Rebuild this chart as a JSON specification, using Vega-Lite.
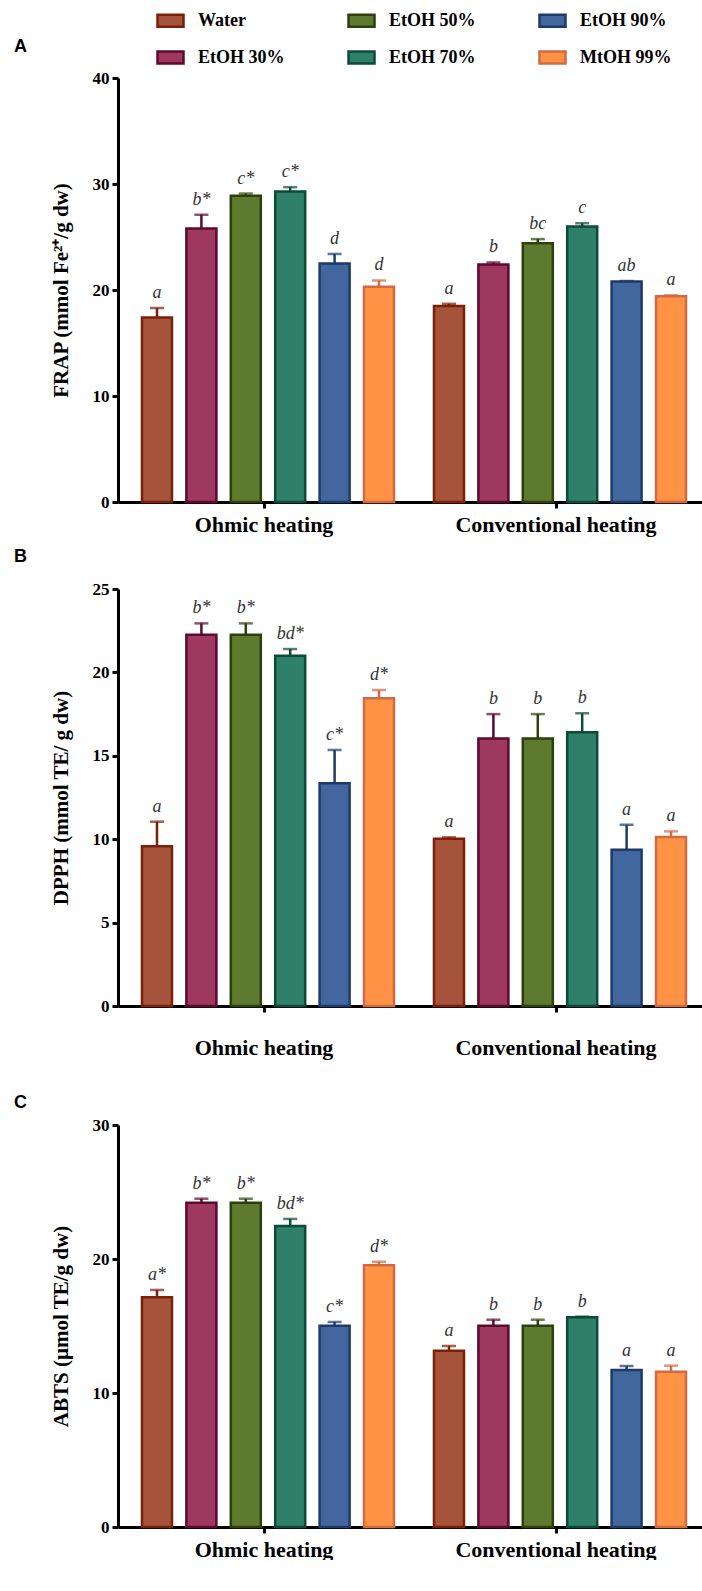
{
  "$schema": "https://vega.github.io/schema/vega-lite/v6.json",
  "padding": {"left": 14, "top": 6, "right": 0, "bottom": 0},
  "background": "white",
  "data": {"values": [
    {"panel": "A", "heating": "Ohmic heating", "solvent": "Water", "value": 17.4, "err": 18.3, "label": "a"},
    {"panel": "A", "heating": "Ohmic heating", "solvent": "EtOH 30%", "value": 25.8, "err": 27.1, "label": "b*"},
    {"panel": "A", "heating": "Ohmic heating", "solvent": "EtOH 50%", "value": 28.9, "err": 29.1, "label": "c*"},
    {"panel": "A", "heating": "Ohmic heating", "solvent": "EtOH 70%", "value": 29.3, "err": 29.7, "label": "c*"},
    {"panel": "A", "heating": "Ohmic heating", "solvent": "EtOH 90%", "value": 22.5, "err": 23.4, "label": "d"},
    {"panel": "A", "heating": "Ohmic heating", "solvent": "MtOH 99%", "value": 20.3, "err": 20.9, "label": "d"},
    {"panel": "A", "heating": "Conventional heating", "solvent": "Water", "value": 18.5, "err": 18.7, "label": "a"},
    {"panel": "A", "heating": "Conventional heating", "solvent": "EtOH 30%", "value": 22.4, "err": 22.6, "label": "b"},
    {"panel": "A", "heating": "Conventional heating", "solvent": "EtOH 50%", "value": 24.4, "err": 24.8, "label": "bc"},
    {"panel": "A", "heating": "Conventional heating", "solvent": "EtOH 70%", "value": 26.0, "err": 26.3, "label": "c"},
    {"panel": "A", "heating": "Conventional heating", "solvent": "EtOH 90%", "value": 20.8, "err": 20.85, "label": "ab"},
    {"panel": "A", "heating": "Conventional heating", "solvent": "MtOH 99%", "value": 19.4, "err": 19.5, "label": "a"},
    {"panel": "B", "heating": "Ohmic heating", "solvent": "Water", "value": 9.57, "err": 11.05, "label": "a"},
    {"panel": "B", "heating": "Ohmic heating", "solvent": "EtOH 30%", "value": 22.26, "err": 22.94, "label": "b*"},
    {"panel": "B", "heating": "Ohmic heating", "solvent": "EtOH 50%", "value": 22.26, "err": 22.94, "label": "b*"},
    {"panel": "B", "heating": "Ohmic heating", "solvent": "EtOH 70%", "value": 21.0, "err": 21.4, "label": "bd*"},
    {"panel": "B", "heating": "Ohmic heating", "solvent": "EtOH 90%", "value": 13.35, "err": 15.35, "label": "c*"},
    {"panel": "B", "heating": "Ohmic heating", "solvent": "MtOH 99%", "value": 18.45, "err": 18.95, "label": "d*"},
    {"panel": "B", "heating": "Conventional heating", "solvent": "Water", "value": 10.03, "err": 10.11, "label": "a"},
    {"panel": "B", "heating": "Conventional heating", "solvent": "EtOH 30%", "value": 16.03, "err": 17.5, "label": "b"},
    {"panel": "B", "heating": "Conventional heating", "solvent": "EtOH 50%", "value": 16.03, "err": 17.5, "label": "b"},
    {"panel": "B", "heating": "Conventional heating", "solvent": "EtOH 70%", "value": 16.41, "err": 17.55, "label": "b"},
    {"panel": "B", "heating": "Conventional heating", "solvent": "EtOH 90%", "value": 9.37, "err": 10.87, "label": "a"},
    {"panel": "B", "heating": "Conventional heating", "solvent": "MtOH 99%", "value": 10.13, "err": 10.47, "label": "a"},
    {"panel": "C", "heating": "Ohmic heating", "solvent": "Water", "value": 17.14, "err": 17.69, "label": "a*"},
    {"panel": "C", "heating": "Ohmic heating", "solvent": "EtOH 30%", "value": 24.2, "err": 24.5, "label": "b*"},
    {"panel": "C", "heating": "Ohmic heating", "solvent": "EtOH 50%", "value": 24.2, "err": 24.5, "label": "b*"},
    {"panel": "C", "heating": "Ohmic heating", "solvent": "EtOH 70%", "value": 22.46, "err": 22.99, "label": "bd*"},
    {"panel": "C", "heating": "Ohmic heating", "solvent": "EtOH 90%", "value": 15.02, "err": 15.3, "label": "c*"},
    {"panel": "C", "heating": "Ohmic heating", "solvent": "MtOH 99%", "value": 19.53, "err": 19.8, "label": "d*"},
    {"panel": "C", "heating": "Conventional heating", "solvent": "Water", "value": 13.16, "err": 13.51, "label": "a"},
    {"panel": "C", "heating": "Conventional heating", "solvent": "EtOH 30%", "value": 15.02, "err": 15.47, "label": "b"},
    {"panel": "C", "heating": "Conventional heating", "solvent": "EtOH 50%", "value": 15.02, "err": 15.47, "label": "b"},
    {"panel": "C", "heating": "Conventional heating", "solvent": "EtOH 70%", "value": 15.65, "err": 15.7, "label": "b"},
    {"panel": "C", "heating": "Conventional heating", "solvent": "EtOH 90%", "value": 11.72, "err": 12.01, "label": "a"},
    {"panel": "C", "heating": "Conventional heating", "solvent": "MtOH 99%", "value": 11.59, "err": 12.04, "label": "a"}
  ]},
  "spacing": 13,
  "resolve": {"scale": {"x": "independent", "y": "independent", "xOffset": "independent"}},
  "vconcat": [
    {
      "width": 584, "height": 424,
      "title": {"text": "A", "anchor": "start", "frame": "group", "dx": -104, "offset": -5, "baseline": "bottom"},
      "transform": [{"filter": "datum.panel == 'A'"}],
      "encoding": {
        "x": {"field": "heating", "type": "nominal", "sort": ["Ohmic heating", "Conventional heating"], "scale": {"paddingInner": 0, "paddingOuter": 0}, "axis": {"title": null, "labelAngle": 0, "labelPadding": 6, "labelFontSize": 22}},
        "xOffset": {"field": "solvent", "type": "nominal", "sort": ["Water", "EtOH 30%", "EtOH 50%", "EtOH 70%", "EtOH 90%", "MtOH 99%"], "scale": {"paddingInner": 0.324, "paddingOuter": 0.45, "align": 0.6}}
      },
      "layer": [
        {"mark": {"type": "bar", "strokeWidth": 2.5},
         "encoding": {
           "y": {"field": "value", "type": "quantitative", "scale": {"domain": [0, 40], "nice": false}, "axis": {"values": [0, 10, 20, 30, 40], "title": "FRAP (mmol Fe²⁺/g dw)"}},
           "fill": {"field": "solvent", "type": "nominal", "scale": {"domain": ["Water", "EtOH 50%", "EtOH 90%", "EtOH 30%", "EtOH 70%", "MtOH 99%"], "range": ["#A5533B", "#5E7A2E", "#42679F", "#9E385E", "#2E8068", "#FF9244"]},
             "legend": {"orient": "none", "legendX": 38, "legendY": -72, "direction": "horizontal", "columns": 3, "title": null, "symbolType": "M-1,-0.46H1V0.46H-1Z", "symbolSize": 676, "symbolStrokeWidth": 2.5, "symbolOpacity": 1, "labelFont": "Liberation Serif", "labelFontWeight": "bold", "labelFontSize": 18, "labelColor": "black", "labelOffset": 13, "columnPadding": 58, "rowPadding": 11, "padding": 0}},
           "stroke": {"field": "solvent", "type": "nominal", "scale": {"domain": ["Water", "EtOH 50%", "EtOH 90%", "EtOH 30%", "EtOH 70%", "MtOH 99%"], "range": ["#7A2008", "#2C400C", "#1E3A68", "#5C0A2E", "#0D4A38", "#D06A45"]}}
         }},
        {"mark": {"type": "rule", "strokeWidth": 2.5},
         "encoding": {"y": {"field": "value", "type": "quantitative"}, "y2": {"field": "err"},
           "color": {"field": "solvent", "type": "nominal", "scale": {"domain": ["Water", "EtOH 50%", "EtOH 90%", "EtOH 30%", "EtOH 70%", "MtOH 99%"], "range": ["#7A2008", "#2C400C", "#1E3A68", "#5C0A2E", "#0D4A38", "#D06A45"]}, "legend": null}}},
        {"mark": {"type": "tick", "thickness": 2.5, "size": 14},
         "encoding": {"y": {"field": "err", "type": "quantitative"},
           "color": {"field": "solvent", "type": "nominal", "legend": null}}},
        {"mark": {"type": "text", "font": "Liberation Serif", "fontStyle": "italic", "fontSize": 18, "color": "#333333", "baseline": "alphabetic", "dy": -10},
         "encoding": {"y": {"field": "err", "type": "quantitative"}, "text": {"field": "label"}}}
      ]
    },
    {
      "width": 584, "height": 417,
      "title": {"text": "B", "anchor": "start", "frame": "group", "dx": -104, "offset": -4, "baseline": "bottom"},
      "transform": [{"filter": "datum.panel == 'B'"}],
      "encoding": {
        "x": {"field": "heating", "type": "nominal", "sort": ["Ohmic heating", "Conventional heating"], "scale": {"paddingInner": 0, "paddingOuter": 0}, "axis": {"title": " ", "titleFontSize": 10, "titlePadding": 13, "labelAngle": 0, "labelPadding": 25, "labelFontSize": 22}},
        "xOffset": {"field": "solvent", "type": "nominal", "sort": ["Water", "EtOH 30%", "EtOH 50%", "EtOH 70%", "EtOH 90%", "MtOH 99%"], "scale": {"paddingInner": 0.324, "paddingOuter": 0.45, "align": 0.6}}
      },
      "layer": [
        {"mark": {"type": "bar", "strokeWidth": 2.5},
         "encoding": {
           "y": {"field": "value", "type": "quantitative", "scale": {"domain": [0, 25], "nice": false}, "axis": {"values": [0, 5, 10, 15, 20, 25], "title": "DPPH (mmol TE/ g dw)"}},
           "fill": {"field": "solvent", "type": "nominal"},
           "stroke": {"field": "solvent", "type": "nominal"}
         }},
        {"mark": {"type": "rule", "strokeWidth": 2.5},
         "encoding": {"y": {"field": "value", "type": "quantitative"}, "y2": {"field": "err"},
           "color": {"field": "solvent", "type": "nominal", "legend": null}}},
        {"mark": {"type": "tick", "thickness": 2.5, "size": 14},
         "encoding": {"y": {"field": "err", "type": "quantitative"},
           "color": {"field": "solvent", "type": "nominal", "legend": null}}},
        {"mark": {"type": "text", "font": "Liberation Serif", "fontStyle": "italic", "fontSize": 18, "color": "#333333", "baseline": "alphabetic", "dy": -10},
         "encoding": {"y": {"field": "err", "type": "quantitative"}, "text": {"field": "label"}}}
      ]
    },
    {
      "width": 584, "height": 402,
      "title": {"text": "C", "anchor": "start", "frame": "group", "dx": -104, "offset": -14, "baseline": "bottom"},
      "transform": [{"filter": "datum.panel == 'C'"}],
      "encoding": {
        "x": {"field": "heating", "type": "nominal", "sort": ["Ohmic heating", "Conventional heating"], "scale": {"paddingInner": 0, "paddingOuter": 0}, "axis": {"title": null, "labelAngle": 0, "labelPadding": 6, "labelFontSize": 22}},
        "xOffset": {"field": "solvent", "type": "nominal", "sort": ["Water", "EtOH 30%", "EtOH 50%", "EtOH 70%", "EtOH 90%", "MtOH 99%"], "scale": {"paddingInner": 0.324, "paddingOuter": 0.45, "align": 0.6}}
      },
      "layer": [
        {"mark": {"type": "bar", "strokeWidth": 2.5},
         "encoding": {
           "y": {"field": "value", "type": "quantitative", "scale": {"domain": [0, 30], "nice": false}, "axis": {"values": [0, 10, 20, 30], "title": "ABTS (µmol TE/g dw)"}},
           "fill": {"field": "solvent", "type": "nominal"},
           "stroke": {"field": "solvent", "type": "nominal"}
         }},
        {"mark": {"type": "rule", "strokeWidth": 2.5},
         "encoding": {"y": {"field": "value", "type": "quantitative"}, "y2": {"field": "err"},
           "color": {"field": "solvent", "type": "nominal", "legend": null}}},
        {"mark": {"type": "tick", "thickness": 2.5, "size": 14},
         "encoding": {"y": {"field": "err", "type": "quantitative"},
           "color": {"field": "solvent", "type": "nominal", "legend": null}}},
        {"mark": {"type": "text", "font": "Liberation Serif", "fontStyle": "italic", "fontSize": 18, "color": "#333333", "baseline": "alphabetic", "dy": -10},
         "encoding": {"y": {"field": "err", "type": "quantitative"}, "text": {"field": "label"}}}
      ]
    }
  ],
  "config": {
    "view": {"stroke": null},
    "title": {"font": "Liberation Sans", "fontWeight": "bold", "fontSize": 18, "color": "black"},
    "axis": {"grid": false, "domainColor": "black", "domainWidth": 3, "tickColor": "black", "tickWidth": 3, "tickSize": 6, "labelFont": "Liberation Serif", "labelFontWeight": "bold", "labelColor": "black", "labelLimit": 400, "titleFont": "Liberation Serif", "titleFontWeight": "bold", "titleColor": "black"},
    "axisY": {"labelFontSize": 17, "titleFontSize": 21, "titlePadding": 21, "labelPadding": 3}
  }
}
